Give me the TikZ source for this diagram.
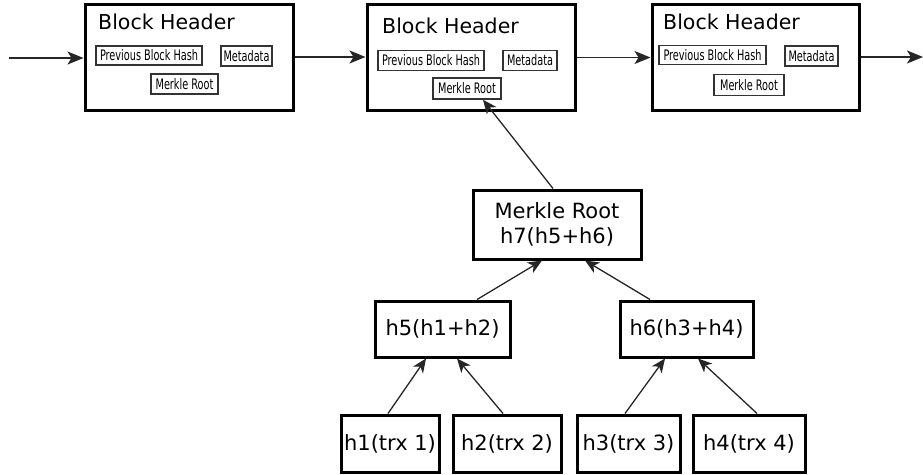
\documentclass[tikz,border=0pt]{standalone}
\usepackage{fontspec}
\usepackage{graphicx}
\setmainfont{DejaVu Sans}
\usetikzlibrary{arrows.meta}

\tikzset{
  blockbox/.style={draw, line width=3pt, rectangle, inner sep=0pt},
  fieldbox/.style={draw, line width=1.5pt, draw=black!80, rectangle, inner sep=0pt,
    font=\fontsize{14.5}{14.5}\selectfont},
  treebox/.style={draw, line width=3pt, rectangle, inner sep=0pt, align=center,
    font=\fontsize{21}{25}\selectfont},
  title/.style={anchor=base west, inner sep=0pt, font=\fontsize{20.5}{20.5}\selectfont},
  link/.style={line width=1.6pt, draw=black!85, -{Stealth[length=16pt,width=13pt,inset=4pt]}},
  treelink/.style={line width=1.3pt, draw=black!85, -{Stealth[length=14pt,width=12pt,inset=4pt]}}
}
\newcommand{\narrow}[1]{\scalebox{0.67}[1]{#1}}

\begin{document}
\begin{tikzpicture}[x=1pt,y=-1pt]
\useasboundingbox (0,0) rectangle (923,474);

% chain of block headers
\node[blockbox, minimum width=208, minimum height=106] (b1) at (189,57) {};
\node[blockbox, minimum width=208, minimum height=106] (b2) at (471,57.5) {};
\node[blockbox, minimum width=207, minimum height=106] (b3) at (755.5,57) {};

\node[title] (t1) at (98,29) {Block Header};
\node[title] (t2) at (382,33) {Block Header};
\node[title] (t3) at (663,29) {Block Header};

% fields of each header
\node[fieldbox, minimum width=106, minimum height=19] (p1) at (149,55.5) {\narrow{Previous Block Hash}};
\node[fieldbox, minimum width=51, minimum height=20] (m1) at (246.5,56) {\narrow{Metadata}};
\node[fieldbox, minimum width=67, minimum height=20] (r1) at (184.5,84) {\narrow{Merkle Root}};

\node[fieldbox, minimum width=106, minimum height=20] (p2) at (431,60.5) {\narrow{Previous Block Hash}};
\node[fieldbox, minimum width=54, minimum height=20] (m2) at (530,60.5) {\narrow{Metadata}};
\node[fieldbox, minimum width=68, minimum height=21] (r2) at (467,88.5) {\narrow{Merkle Root}};

\node[fieldbox, minimum width=107, minimum height=19] (p3) at (712.5,55) {\narrow{Previous Block Hash}};
\node[fieldbox, minimum width=53, minimum height=20] (m3) at (811.5,56) {\narrow{Metadata}};
\node[fieldbox, minimum width=70, minimum height=21] (r3) at (749,85) {\narrow{Merkle Root}};

% links between headers
\coordinate (cin) at (9,58);
\coordinate (cout) at (923,57);
\draw[link] (cin) -- (cin -| b1.west);
\draw[link] (b1.east) -- (b1.east -| b2.west);
\draw[link] (b2.east) -- (b2.east -| b3.west);
\draw[link] (b3.east) -- (cout);

% Merkle tree
\node[treebox, minimum width=168, minimum height=69] (mr) at (557,224.5) {Merkle Root\\h7(h5+h6)};
\node[treebox, minimum width=135, minimum height=56] (h5) at (442.5,329) {h5(h1+h2)};
\node[treebox, minimum width=133, minimum height=56] (h6) at (686.5,329) {h6(h3+h4)};
\node[treebox, minimum width=98, minimum height=57] (h1) at (390,443.5) {h1(trx 1)};
\node[treebox, minimum width=108, minimum height=57] (h2) at (507,443.5) {h2(trx 2)};
\node[treebox, minimum width=103, minimum height=57] (h3) at (628.5,443.5) {h3(trx 3)};
\node[treebox, minimum width=112, minimum height=57] (h4) at (749,443.5) {h4(trx 4)};

\draw[treelink] ([xshift=-2pt]h1.north) -- ([xshift=-16.5pt]h5.south);
\draw[treelink] ([xshift=-4pt]h2.north) -- ([xshift=14.5pt]h5.south);
\draw[treelink] ([xshift=-3.5pt]h3.north) -- ([xshift=-21.5pt]h6.south);
\draw[treelink] ([xshift=8pt]h4.north) -- ([xshift=11.5pt]h6.south);
\draw[treelink] ([xshift=34.5pt]h5.north) -- ([xshift=-15pt]mr.south);
\draw[treelink] ([xshift=-36.5pt]h6.north) -- ([xshift=28pt]mr.south);
\draw[treelink] ([xshift=-4pt]mr.north) -- ([xshift=16pt]r2.south);

\end{tikzpicture}
\end{document}
